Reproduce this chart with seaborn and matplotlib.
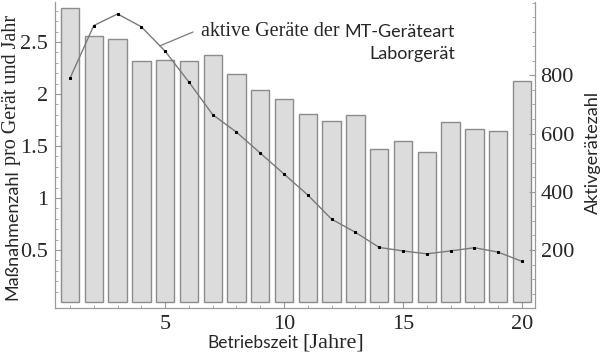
import numpy as np
import matplotlib
matplotlib.use('Agg')
import matplotlib.pyplot as plt
from matplotlib.ticker import MultipleLocator, FixedLocator
import seaborn as sns

# =========================
# DATA
# =========================
jahre = np.arange(1, 21)
massnahmen = [2.83, 2.56, 2.53, 2.32, 2.33, 2.32, 2.38, 2.19, 2.04, 1.95,
              1.81, 1.74, 1.80, 1.47, 1.55, 1.44, 1.73, 1.66, 1.64, 2.13]
aktiv = [790, 971, 1011, 967, 883, 777, 665, 605, 533, 461,
         389, 306, 261, 209, 197, 187, 197, 208, 193, 161]

# =========================
# STYLE
# =========================
sns.set_style('ticks')
plt.rcParams['font.family'] = ['Liberation Serif', 'DejaVu Serif']
sans = ['Lato', 'DejaVu Sans']
frame_col = '#9a9a9a'
W, H = 604, 354


def px(x, y):
    return x / W, 1 - y / H


fig = plt.figure(figsize=(W / 100, H / 100), dpi=100)
ax = fig.add_axes([55 / W, 1 - 307.7 / H, 480 / W, 305.7 / H])

# bars
sns.barplot(x=jahre, y=massnahmen, native_scale=True, width=0.77,
            color='#dcdcdc', saturation=1, edgecolor='#8c8c8c',
            linewidth=1, ax=ax)
ax.set_xlim(0.37, 20.55)
ax.set_ylim(-0.055, 2.885)
ax.xaxis.set_major_locator(FixedLocator([5, 10, 15, 20]))
ax.xaxis.set_minor_locator(MultipleLocator(1))
ax.yaxis.set_major_locator(FixedLocator([0.5, 1, 1.5, 2, 2.5]))
ax.yaxis.set_minor_locator(FixedLocator(np.arange(0.1, 2.85, 0.1)))
ax.set_yticklabels(['0.5', '1', '1.5', '2', '2.5'])
ax.set_xlabel('')
ax.set_ylabel('')

# line on second axis
ax2 = ax.twinx()
sns.lineplot(x=jahre, y=aktiv, ax=ax2, color='#7a7a7a', lw=1,
             marker='s', markersize=1.6, markerfacecolor='k',
             markeredgecolor='k')
ax2.set_ylim(2, 1052)
ax2.yaxis.set_major_locator(FixedLocator([200, 400, 600, 800]))
ax2.yaxis.set_minor_locator(MultipleLocator(50))
ax2.set_ylabel('')

for a in (ax, ax2):
    a.spines['top'].set_visible(False)
    for s in a.spines.values():
        s.set_color(frame_col)
        s.set_linewidth(0.9)
    a.tick_params(which='major', direction='in', length=4, width=0.8,
                  color=frame_col, labelsize=16)
    a.tick_params(which='minor', direction='in', length=2, width=0.6,
                  color=frame_col)
ax.spines['right'].set_visible(False)
ax2.spines['left'].set_visible(False)
ax2.spines['bottom'].set_visible(False)
ax.tick_params(axis='x', pad=5)
ax.tick_params(axis='y', pad=5)
ax2.tick_params(axis='y', pad=4)

# =========================
# LABELS (mixed fonts)
# =========================
fig.text(*px(12, 300), 'Maßnahmenzahl', rotation=90, ha='center',
         va='bottom', family=sans, fontsize=13)
fig.text(*px(12, 15), 'pro Gerät und Jahr', rotation=90, ha='center',
         va='top', fontsize=14.5)
fig.text(*px(593, 152), 'Aktivgerätezahl', rotation=90, ha='center',
         va='center', family=sans, fontsize=13)
fig.text(*px(298, 343), 'Betriebszeit', ha='right', va='center',
         family=sans, fontsize=12.5)
fig.text(*px(302, 343), '[Jahre]', ha='left', va='center', fontsize=16)

# annotation
fig.text(*px(455, 32), 'MT-Geräteart', ha='right', va='center',
         family=sans, fontsize=13)
fig.text(*px(340, 32), 'aktive Geräte der', ha='right', va='center',
         fontsize=14.5)
fig.text(*px(455, 54), 'Laborgerät', ha='right', va='center',
         family=sans, fontsize=13)
xa = 4.78
ax2.annotate('', xy=(xa, np.interp(xa, jahre, aktiv)), xycoords='data',
             xytext=(193, H - 32), textcoords='figure pixels',
             arrowprops=dict(arrowstyle='-', color='#7a7a7a', lw=0.9,
                             shrinkA=0, shrinkB=0))

fig.savefig('out.png', dpi=100)
